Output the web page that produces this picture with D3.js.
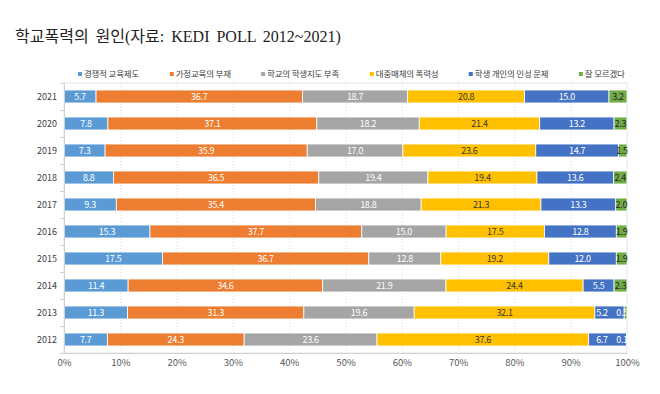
<!DOCTYPE html>
<html>
<head>
<meta charset="utf-8">
<script src="https://cdn.jsdelivr.net/npm/d3@7"></script>
<style>
  body { margin: 0; background: #fff; }
  svg { display: block; }
</style>
</head>
<body>
<div id="chart"></div>
<script>
// data
const years = ["2021", "2020", "2019", "2018", "2017", "2016", "2015", "2014", "2013", "2012"];
const causes = ["경쟁적 교육제도", "가정교육의 부재", "학교의 학생지도 부족", "대중매체의 폭력성", "학생 개인의 인성 문제", "잘 모르겠다"];
const competitiveEdu = [5.7, 7.8, 7.3, 8.8, 9.3, 15.3, 17.5, 11.4, 11.3, 7.7];
const homeEdu = [36.7, 37.1, 35.9, 36.5, 35.4, 37.7, 36.7, 34.6, 31.3, 24.3];
const schoolGuidance = [18.7, 18.2, 17.0, 19.4, 18.8, 15.0, 12.8, 21.9, 19.6, 23.6];
const massMedia = [20.8, 21.4, 23.6, 19.4, 21.3, 17.5, 19.2, 24.4, 32.1, 37.6];
const personality = [15.0, 13.2, 14.7, 13.6, 13.3, 12.8, 12.0, 5.5, 5.2, 6.7];
const dontKnow = [3.2, 2.3, 1.5, 2.4, 2.0, 1.9, 1.9, 2.3, 0.5, 0.1];
const xTicks = [0, 10, 20, 30, 40, 50, 60, 70, 80, 90, 100];

const seriesValues = [competitiveEdu, homeEdu, schoolGuidance, massMedia, personality, dontKnow];
const colors = ["#5b9bd5", "#ed7d31", "#a5a5a5", "#ffc000", "#4472c4", "#70ad47"];
const labelColors = ["#fff", "#fff", "#fff", "#3a3a3a", "#fff", "#262626"];

const width = 660, height = 394;
const margin = { top: 83, right: 33, bottom: 41, left: 64 };
const font = "'Noto Sans CJK KR', 'Noto Sans', sans-serif";

// build rows as shares of each year's total (100% stacked)
const rows = years.map((y, i) => {
  const row = { year: y };
  causes.forEach((c, k) => { row[c] = seriesValues[k][i]; });
  return row;
});
const stacked = d3.stack()
  .keys(causes)
  .offset(d3.stackOffsetExpand)(rows);

const svg = d3.select("#chart")
  .append("svg")
  .attr("width", width)
  .attr("height", height);

const x = d3.scaleLinear()
  .domain([0, 1])
  .range([margin.left, width - margin.right]);

const y = d3.scaleBand()
  .domain(years)
  .range([margin.top, height - margin.bottom])
  .paddingInner(0.52)
  .paddingOuter(0.26);

// title
svg.append("text")
  .attr("x", 15)
  .attr("y", 42)
  .attr("font-family", "'Liberation Serif', 'Noto Sans CJK KR', serif")
  .attr("font-size", "16px")
  .attr("word-spacing", "3px")
  .attr("fill", "#222")
  .text("학교폭력의 원인(자료: KEDI POLL 2012~2021)");

// plot frame + dotted gridlines
svg.append("rect")
  .attr("x", x(0))
  .attr("y", margin.top)
  .attr("width", x(1) - x(0))
  .attr("height", height - margin.bottom - margin.top)
  .attr("fill", "none")
  .attr("stroke", "#e4e4e4")
  .attr("stroke-width", 1);

svg.append("g")
  .selectAll("line")
  .data(xTicks.slice(1, -1))
  .enter()
  .append("line")
  .attr("x1", d => x(d / 100) + 0.5)
  .attr("x2", d => x(d / 100) + 0.5)
  .attr("y1", margin.top)
  .attr("y2", height - margin.bottom)
  .attr("stroke", "#dadada")
  .attr("stroke-dasharray", "1,2");

// bars
const layer = svg.append("g")
  .selectAll("g")
  .data(stacked)
  .enter()
  .append("g")
  .attr("fill", (d, i) => colors[i]);

layer.selectAll("rect")
  .data(d => d)
  .enter()
  .append("rect")
  .attr("x", d => x(d[0]))
  .attr("y", d => y(d.data.year))
  .attr("width", d => Math.max(0, x(d[1]) - x(d[0])))
  .attr("height", y.bandwidth())
  .attr("stroke", "#fff")
  .attr("stroke-width", 0.8);

// value label centers; the last two are pushed apart when crowded at the right edge
const labelX = years.map((yr, i) => {
  const cs = stacked.map(s => Math.min((x(s[i][0]) + x(s[i][1])) / 2, x(1) - 5));
  const n = cs.length - 1;
  if (cs[n] - cs[n - 1] < 20) cs[n - 1] = Math.min(cs[n - 1], cs[n] - 20);
  return cs;
});

stacked.forEach((s, k) => {
  svg.append("g")
    .selectAll("text")
    .data(s)
    .enter()
    .append("text")
    .attr("x", (d, i) => labelX[i][k])
    .attr("y", d => y(d.data.year) + y.bandwidth() / 2)
    .attr("dy", "0.35em")
    .attr("text-anchor", "middle")
    .attr("font-family", font)
    .attr("font-size", "9px")
    .attr("letter-spacing", "-0.3px")
    .attr("fill", d => (k === 5 && d.data[s.key] < 1) ? "#fff" : labelColors[k])
    .text(d => d.data[s.key].toFixed(1));
});

// y axis: line + ticks between categories
const yAxisG = svg.append("g");
yAxisG.append("line")
  .attr("x1", x(0) + 0.5).attr("x2", x(0) + 0.5)
  .attr("y1", margin.top).attr("y2", height - margin.bottom)
  .attr("stroke", "#d0d0d0");
const bounds = years.map(yr => y(yr) - y.step() * y.paddingInner() / 2).concat([height - margin.bottom]);
yAxisG.selectAll(".tk")
  .data(bounds)
  .enter()
  .append("line")
  .attr("x1", x(0) - 4).attr("x2", x(0))
  .attr("y1", d => Math.round(d) + 0.5).attr("y2", d => Math.round(d) + 0.5)
  .attr("stroke", "#d0d0d0");
yAxisG.selectAll("text")
  .data(years)
  .enter()
  .append("text")
  .attr("x", x(0) - 7)
  .attr("y", d => y(d) + y.bandwidth() / 2)
  .attr("dy", "0.35em")
  .attr("text-anchor", "end")
  .attr("font-family", font)
  .attr("font-size", "9px")
  .attr("fill", "#404040")
  .text(d => d);

// x axis
const xAxis = d3.axisBottom(x)
  .tickValues(xTicks.map(t => t / 100))
  .tickFormat(d => Math.round(d * 100) + "%")
  .tickSize(0)
  .tickPadding(6);
const xg = svg.append("g")
  .attr("transform", `translate(0,${height - margin.bottom})`)
  .call(xAxis);
xg.select(".domain").attr("stroke", "#d0d0d0");
xg.selectAll("text")
  .attr("font-family", font)
  .attr("font-size", "9.5px")
  .attr("fill", "#595959");

// legend: evenly spread over the same span as the original
const legend = svg.append("g");
const items = legend.selectAll("g")
  .data(causes)
  .enter()
  .append("g");
items.append("rect")
  .attr("width", 4)
  .attr("height", 4)
  .attr("y", -2)
  .attr("fill", (d, i) => colors[i]);
items.append("text")
  .attr("x", 6)
  .attr("dy", "0.35em")
  .attr("font-family", font)
  .attr("font-size", "8.5px")
  .attr("letter-spacing", "-0.2px")
  .attr("fill", "#404040")
  .text(d => d);
const widths = [];
items.each(function() { widths.push(this.getBBox().width); });
const legStart = 78, legEnd = 625;
const gap = (legEnd - legStart - d3.sum(widths)) / (causes.length - 1);
let cx = legStart;
items.attr("transform", (d, i) => {
  const t = `translate(${cx},74)`;
  cx += widths[i] + gap;
  return t;
});
</script>
</body>
</html>
